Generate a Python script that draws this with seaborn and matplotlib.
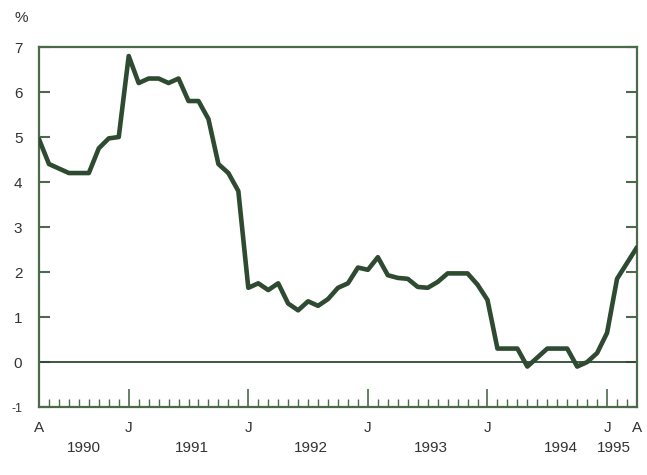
import numpy as np
import pandas as pd
import matplotlib
matplotlib.use("Agg")
import matplotlib.pyplot as plt
import matplotlib.transforms as mtransforms
import seaborn as sns

# monthly values, April 1990 to April 1995 (%)
values = [4.95, 4.4, 4.3, 4.2, 4.2, 4.2, 4.75, 4.97, 5.0,
          6.8, 6.2, 6.3, 6.3, 6.2, 6.3, 5.8, 5.8, 5.4, 4.4, 4.2, 3.8,
          1.65, 1.75, 1.6, 1.75, 1.3, 1.15, 1.35, 1.25, 1.4, 1.65, 1.75, 2.1,
          2.05, 2.33, 1.93, 1.87, 1.85, 1.67, 1.65, 1.78, 1.97, 1.97, 1.97, 1.72,
          1.38, 0.3, 0.3, 0.3, -0.1, 0.1, 0.3, 0.3, 0.3, -0.1, 0.0, 0.2,
          0.65, 1.85, 2.2, 2.55]
month_pos = [0, 9, 21, 33, 45, 57, 60]
month_labels = ["A", "J", "J", "J", "J", "J", "A"]
year_pos = [4.5, 15.3, 27.3, 39.3, 52.4, 57.7]
year_labels = ["1990", "1991", "1992", "1993", "1994", "1995"]
y_ticks = [-1, 0, 1, 2, 3, 4, 5, 6, 7]

df = pd.DataFrame({"month": np.arange(len(values)), "value": values})

sns.set_style("ticks")
plt.rcParams["font.family"] = ["Liberation Sans", "DejaVu Sans"]

line_col = "#2e4a30"
frame_col = "#4a6a4a"
text_col = "#333333"

fig = plt.figure(figsize=(6.47, 4.75), dpi=100)
ax = fig.add_axes([0.0603, 0.143, 0.9242, 0.758])

ax.axhline(0, color=line_col, lw=1.3, zorder=1)
sns.lineplot(data=df, x="month", y="value", ax=ax, color=line_col, lw=3.3,
             solid_joinstyle="round", solid_capstyle="round", zorder=3)

ax.set_xlim(0, 60)
ax.set_ylim(-1, 7)
ax.set_xlabel("")
ax.set_ylabel("")

for s in ax.spines.values():
    s.set_color(frame_col)
    s.set_linewidth(1.6)

ax.set_yticks(y_ticks)
ax.set_yticklabels([str(t) for t in y_ticks])
ax.tick_params(axis="y", direction="in", length=8, width=1.5, color=frame_col,
               left=True, right=True, labelsize=11, labelcolor=text_col, pad=12)
for lab in ax.get_yticklabels():
    if lab.get_text() == "-1":
        lab.set_fontsize(9)

ax.set_xticks(month_pos)
ax.set_xticklabels(month_labels)
ax.set_xticks(np.arange(0, 61), minor=True)
ax.tick_params(axis="x", which="major", direction="in", length=13, width=1.2,
               color=frame_col, labelsize=11, labelcolor=text_col, pad=10)
ax.tick_params(axis="x", which="minor", direction="in", length=6, width=1.0,
               color=frame_col)

trans = mtransforms.blended_transform_factory(ax.transData, ax.transAxes)
for xp, lab in zip(year_pos, year_labels):
    ax.text(xp, -0.115, lab, transform=trans, ha="center", va="center",
            fontsize=11, color=text_col)

fig.text(0.023, 0.962, "%", fontsize=11, color=text_col, ha="left", va="center")

fig.savefig("out.png", dpi=100)
